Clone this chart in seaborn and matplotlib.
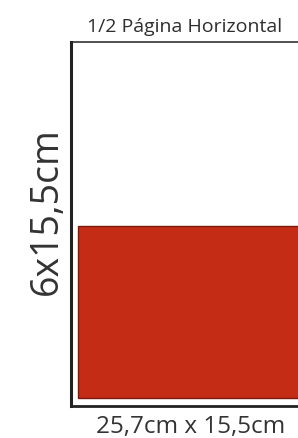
import matplotlib
matplotlib.use("Agg")
import matplotlib.pyplot as plt
import pandas as pd
import seaborn as sns

# chart data
formats = ["1/2 Página Horizontal"]
page_share = [0.5]
height_label = "6x15,5cm"
size_label = "25,7cm x 15,5cm"

sns.set_style("white")
plt.rcParams["font.family"] = ["Open Sans", "DejaVu Sans"]

df = pd.DataFrame({"formato": formats, "pagina": page_share})

fig = plt.figure(figsize=(2.98, 4.38), dpi=100)
ax = fig.add_axes([71 / 298, 32 / 438, 1.0, 364 / 438])

sns.barplot(data=df, x="formato", y="pagina", color="#c42c15", saturation=1,
            width=0.8, edgecolor="#7a1a0c", linewidth=1.0, ax=ax)

ax.set_xlim(-0.4235, 0.5765)
ax.set_ylim(-0.024, 1.035)
ax.set_xticks([])
ax.set_yticks([])
ax.set_xlabel("")
ax.set_ylabel("")

ax.spines["left"].set_linewidth(2.2)
ax.spines["bottom"].set_linewidth(2.0)
ax.spines["top"].set_linewidth(1.1)
ax.spines["right"].set_visible(False)
for s in ["left", "bottom", "top"]:
    ax.spines[s].set_color("#222222")

fig.text(185 / 298, 1 - 27 / 438, formats[0], ha="center", va="center",
         fontsize=14, color="#2e2e2e")
fig.text(47 / 298, 1 - 211 / 438, height_label, ha="center", va="center",
         rotation=90, fontsize=27, color="#333333")
fig.text(191 / 298, 1 - 433 / 438, size_label, ha="center", va="baseline",
         fontsize=17.5, color="#333333")

fig.savefig("out.png", dpi=100, facecolor="white")
